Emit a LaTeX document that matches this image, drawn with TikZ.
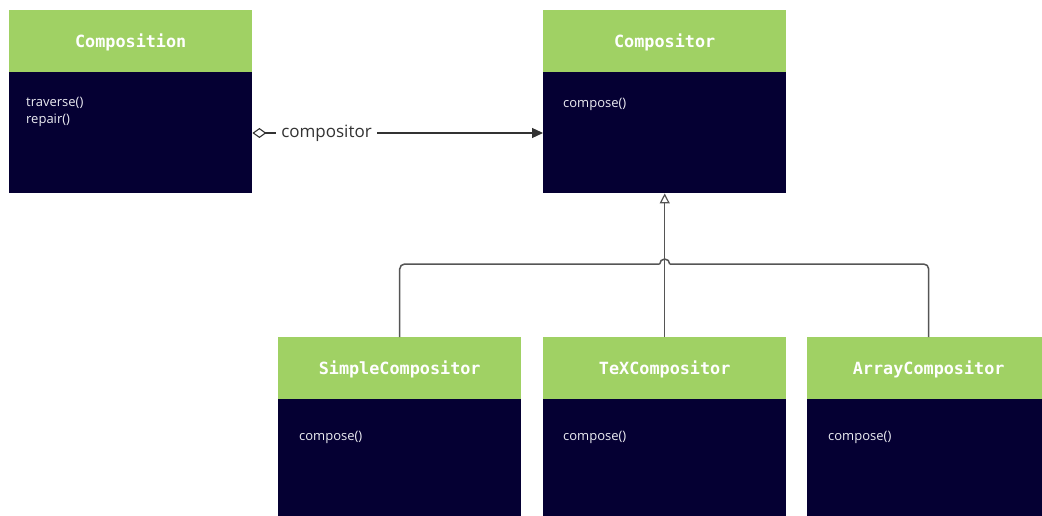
\documentclass[tikz,border=0pt]{standalone}
\usepackage{fontspec}
\setmainfont{Open Sans}
\newfontfamily\hdrfont{DejaVu Sans Mono}
\usetikzlibrary{arrows.meta}
\definecolor{hdrgreen}{HTML}{A0D164}
\definecolor{bodynavy}{HTML}{050033}
\definecolor{linegray}{HTML}{333333}
\definecolor{inhgray}{HTML}{555555}
\definecolor{membertxt}{HTML}{ECECF2}
\tikzset{
  hdr/.style={anchor=north west, fill=hdrgreen, minimum width=243pt, minimum height=62pt,
    inner sep=0pt},
  hdrtext/.style={text=white, inner sep=0pt, font=\hdrfont\bfseries\fontsize{16.8}{19}\selectfont},
  bdy/.style={anchor=north west, fill=bodynavy, minimum width=243pt, minimum height=121pt,
    inner sep=0pt},
  member/.style={anchor=base west, align=left, text=membertxt, inner sep=0pt,
    font=\fontsize{13}{17}\selectfont},
  assoc/.style={draw=linegray, line width=1.2pt,
    {Diamond[open,length=14pt,width=10pt,line width=1.1pt]}-{Triangle[length=11pt,width=10pt]}},
  gen/.style={draw=inhgray, line width=1.5pt},
}
\begin{document}
\begin{tikzpicture}[x=1pt,y=-1pt]
\useasboundingbox (0,0) rectangle (1042,516);
\fill[white] (0,0) rectangle (1042,516);
\clip (0,0) rectangle (1042,516);

% Composition
\node[hdr] (compH) at (9,10) {};
\node[hdrtext] (compT) at ([yshift=-1pt]compH.center) {Composition};
\node[bdy] (compB) at (9,72) {};
\node[member] (compM) at (26,124) {traverse()\\repair()};

% Compositor
\node[hdr] (cmpH) at (543,10) {};
\node[hdrtext] (cmpT) at ([yshift=-1pt]cmpH.center) {Compositor};
\node[bdy] (cmpB) at (543,72) {};
\node[member] (cmpM) at (563,107.5) {compose()};

% concrete compositors
\node[hdr] (simH) at (278,337) {};
\node[hdrtext] (simT) at ([yshift=-1pt]simH.center) {SimpleCompositor};
\node[bdy] (simB) at (278,399) {};
\node[member] (simM) at (299,440) {compose()};

\node[hdr] (texH) at (543,337) {};
\node[hdrtext] (texT) at ([yshift=-1pt]texH.center) {TeXCompositor};
\node[bdy] (texB) at (543,399) {};
\node[member] (texM) at (563,440) {compose()};

\node[hdr] (arrH) at (807,337) {};
\node[hdrtext] (arrT) at ([yshift=-1pt]arrH.center) {ArrayCompositor};
\node[bdy] (arrB) at (807,399) {};
\node[member] (arrM) at (828,440) {compose()};

% aggregation
\draw[assoc] (compB.east |- 0,133) -- node[fill=white, inner xsep=5pt, inner ysep=2pt,
  text=linegray, font=\fontsize{17}{19}\selectfont, pos=0.255] (aggL) {compositor}
  (cmpB.west |- 0,133);

% generalization
\coordinate (hopL) at ([xshift=-5pt]texH.north |- 0,264);
\coordinate (hopR) at ([xshift=5pt]texH.north |- 0,264);
\draw[gen, -{Triangle[open,length=10pt,width=10pt,line width=1.2pt]}] (texH.north) -- (cmpB.south);
\draw[gen, rounded corners=5pt] (simH.north) |- (hopL);
\draw[gen] (hopL) arc[start angle=180, end angle=0, radius=5pt];
\draw[gen, rounded corners=5pt] (hopR) -| (arrH.north);
\end{tikzpicture}
\end{document}
